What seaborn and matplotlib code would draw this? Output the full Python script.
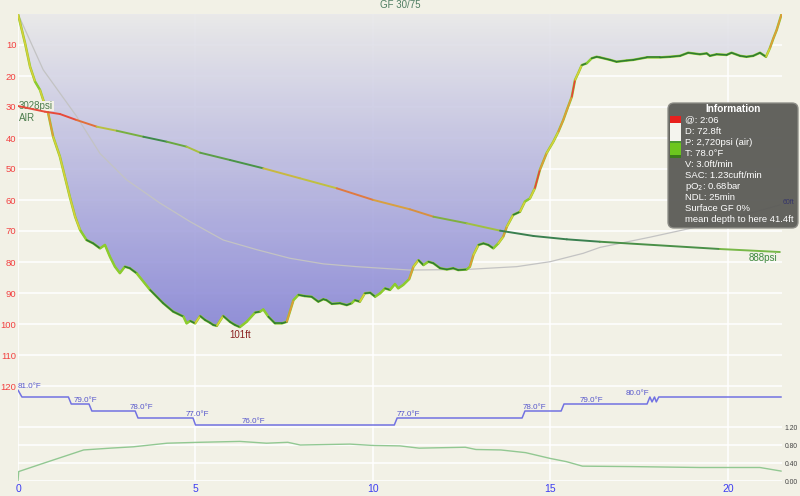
"""Dive profile chart (depth, tank pressure, temperature, pO2)."""

import numpy as np
import matplotlib
matplotlib.use("Agg")
import matplotlib.pyplot as plt
import seaborn as sns
from matplotlib.collections import LineCollection
from matplotlib.colors import LinearSegmentedColormap
from matplotlib.patches import Polygon, FancyBboxPatch, Rectangle
from matplotlib.transforms import IdentityTransform

# ---- data ------------------------------------------------------------------
profile_time = [
    0, 0.2, 0.34, 0.48, 0.62, 0.71, 0.85, 0.99, 1.18, 1.32, 1.46, 1.61, 1.75,
    1.93, 2.12, 2.31, 2.45, 2.59, 2.73, 2.87, 3.01, 3.15, 3.34, 3.72, 4.09,
    4.37, 4.66, 4.75, 4.85, 4.99, 5.13, 5.27, 5.41, 5.5, 5.6, 5.78, 5.97, 6.11,
    6.25, 6.44, 6.68, 6.82, 6.91, 7.05, 7.24, 7.43, 7.57, 7.66, 7.76, 7.9,
    8.08, 8.27, 8.46, 8.6, 8.69, 8.84, 9.07, 9.26, 9.4, 9.49, 9.63, 9.77, 9.92,
    10.06, 10.2, 10.34, 10.48, 10.62, 10.71, 10.85, 11.02, 11.14, 11.28, 11.42,
    11.56, 11.7, 11.89, 12.08, 12.26, 12.4, 12.64, 12.73, 12.83, 12.97, 13.11,
    13.25, 13.39, 13.53, 13.67, 13.77, 13.95, 14.14, 14.28, 14.42, 14.56, 14.7,
    14.89, 15.08, 15.22, 15.36, 15.46, 15.6, 15.69, 15.78, 15.88, 16.02, 16.16,
    16.3, 16.39, 16.68, 16.86, 17.15, 17.33, 17.71, 18.08, 18.37, 18.65, 18.88,
    19.21, 19.4, 19.49, 19.68, 19.96, 20.1, 20.34, 20.52, 20.71, 20.9, 21.07,
    21.18, 21.28, 21.37, 21.51,
]
profile_depth = [
    0, 9.5, 17, 21.8, 24.5, 27.7, 32, 39.6, 46, 52.5, 59, 65.4, 69.7,
    72.9, 74, 75.6, 74.5, 78.3, 81.5, 83.6, 81.5, 82, 83.6, 89, 93.3,
    96, 97.6, 99.8, 99.0, 99.8, 97.4, 98.7, 99.6, 100.3, 100.6, 97.4, 99.3, 100.3,
    101.0, 99.3, 96.3, 96, 95.3, 97.6, 99.8, 99.8, 99.3, 96, 92.3, 90.6,
    91, 91.2, 92.8, 92, 92.3, 93.5, 93.3, 93.9, 93.3, 92.3, 92.8, 90.1, 89.9,
    91.2, 90.1, 88.5, 89, 87.1, 88.5, 87.4, 85.5, 81.5, 79.4, 81,
    79.9, 80.4, 82, 82.4, 82, 82.6, 82.4, 81.5, 77.7, 74.5, 74,
    74.5, 75.6, 74, 71.8, 68.6, 64.8, 63.8, 60.5, 59.5, 56.2, 50.3,
    44.9, 41.2, 38, 34.2, 31, 26.7, 21.3, 19.1, 16.5, 15.9, 14.3,
    13.8, 14, 14.8, 15.4, 15, 14.8, 14, 14, 13.8, 13.5, 12.5,
    13, 12.7, 13.5, 13, 13.2, 12.5, 13.5, 13.8, 13.5, 12.5, 13.8,
    11, 7.8, 5.2, 0,
]

pressure_time = [0, 0.76, 1.18, 1.65, 2.22, 2.78, 3.53, 4.19, 4.75, 5.13, 5.97,
                 6.91, 7.94, 8.98, 10.01, 11.04, 11.7, 12.64, 13.58, 14.52,
                 15.46, 16.39, 19.77, 21.46]
pressure_psi = [3028, 2945, 2911, 2823, 2725, 2666, 2578, 2505, 2432, 2344, 2237,
                2115, 1969, 1822, 1651, 1514, 1406, 1309, 1201, 1123,
                1074, 1039, 932, 888]

mean_time = [0, 0.71, 1.65, 2.31, 3.06, 4.0, 4.85, 5.78, 6.72, 7.66, 8.6, 9.54,
             11.04, 12.64, 14.05, 14.99, 15.92, 16.39, 17.8, 19.2, 20.4, 21.46]
mean_depth = [0, 18, 33, 45, 53.5, 61, 67, 72.9, 76, 78.8, 80.6, 81.5,
              82.6, 82.4, 81.5, 79.9, 77.2, 75.3, 72, 68.5, 65, 61.6]

temp_time = [0, 0.11, 1.42, 1.5, 2.0, 2.08, 3.3, 3.38, 4.93, 5.0, 10.6, 10.68,
             14.2, 14.28, 15.3, 15.38, 17.72, 17.8, 17.86, 17.93, 17.98, 18.05,
             21.5]
temp_f = [81, 80, 80, 79, 79, 78, 78, 77, 77, 76, 76, 77,
          77, 78, 78, 79, 79, 80, 79.3, 80, 79.3, 80,
          80]
temp_label_time = [0, 1.58, 3.15, 4.73, 6.31, 10.67, 14.22, 15.81, 17.12]
temp_label_f = [81, 79, 78, 77, 76, 77, 78, 79, 80]

ppo2_time = [0, 0.02, 0.7, 1.85, 2.6, 3.25, 4.2, 5.1, 6.25, 7.0, 7.6, 7.95, 9.35,
             10.0, 10.76, 11.3, 12.6, 12.9, 13.6, 14.3, 15.0, 15.45, 15.9, 17.3,
             19.2, 20.9, 21.5]
ppo2_bar = [0.0, 0.21, 0.39, 0.69, 0.73, 0.76, 0.84, 0.86, 0.88, 0.84, 0.86, 0.80,
            0.82, 0.79, 0.78, 0.73, 0.75, 0.70, 0.69, 0.63, 0.50, 0.43, 0.33,
            0.32, 0.30, 0.30, 0.22]

depth_ticks = list(range(0, 130, 10))
time_ticks = [0, 5, 10, 15, 20]
ppo2_ticks = [0.0, 0.4, 0.8, 1.2]

info_title = "Information"
info_lines = [
    "@: 2:06",
    "D: 72.8ft",
    "P: 2,720psi (air)",
    "T: 78.0°F",
    "V: 3.0ft/min",
    "SAC: 1.23cuft/min",
    "pO$_2$: 0.68bar",
    "NDL: 25min",
    "Surface GF 0%",
    "mean depth to here 41.4ft",
]

# ---- styling ------------------------------------------------------------------
BG = "#f2f1e6"
RED = "#f24040"
BLUE = "#3c3cf2"
PRESSURE_COLORS = [
    "#e84a3a", "#e84a3a", "#e84a3a", "#e2703a", "#b8c040", "#78b040",
    "#3f8a4a", "#6aa840", "#a8c040", "#5c9e48", "#4a9448", "#c8b840",
    "#c0c040", "#e07a40", "#d8a040", "#d89040", "#80b040", "#a0c040",
    "#3a8050", "#3a8050", "#3a8050", "#4a9048", "#78b848",
]

sns.set_style("white", rc={"axes.facecolor": BG, "figure.facecolor": BG})
plt.rcParams["font.family"] = ["Liberation Sans", "DejaVu Sans"]

W, H = 800, 496
fig = plt.figure(figsize=(W / 100, H / 100), dpi=100)
ax = fig.add_axes([18 / W, (H - 481) / H, 764 / W, 467 / H])
ax_p = ax.twinx()
ax_t = ax.twinx()
ax_o = ax.twinx()

t_max = 764 / 35.5

# depth gradient fill, clipped to the profile
t = np.array(profile_time)
d = np.array(profile_depth)
grad = np.linspace(0, 1, 256).reshape(-1, 1)
cmap = LinearSegmentedColormap.from_list("depth", ["#e9e9ea", "#8684d6"])
im = ax.imshow(grad, extent=[0, t_max, d.max(), 0], aspect="auto", cmap=cmap,
               alpha=0.9, zorder=1, interpolation="bilinear")
poly = Polygon(np.column_stack([t, d]), closed=True, facecolor="none",
               edgecolor="none", transform=ax.transData)
ax.add_patch(poly)
im.set_clip_path(poly)

# mean depth
sns.lineplot(x=mean_time, y=mean_depth, ax=ax, color="#c3c3c3", lw=0.9,
             estimator=None, zorder=3)

# profile coloured by vertical speed
speed = np.diff(d) / np.diff(t)
seg_colors = []
for v in speed:
    s = abs(v) / 2.0 if v > 0 else abs(v)
    if s < 6:
        seg_colors.append("#2f7a34")
    elif s < 15:
        seg_colors.append("#8ccc2e")
    elif s < 27:
        seg_colors.append("#d9cf3a")
    elif s < 40:
        seg_colors.append("#e8963a")
    else:
        seg_colors.append("#ee3b3b")
pts = np.column_stack([t, d])
segs = np.stack([pts[:-1], pts[1:]], axis=1)
# light edge under the coloured line
ax.plot(t, d, color="#8ccc2e", lw=1.8, zorder=4, solid_capstyle="round")
ax.add_collection(LineCollection(segs, colors=seg_colors, linewidths=1.1,
                                 capstyle="round", zorder=4.5))
imax = int(np.argmax(d))
ax.annotate(f"{d.max():.0f}ft", (t[imax], d[imax]), xytext=(0, -2),
            textcoords="offset points", ha="center", va="top",
            fontsize=7, color="#8b2020", zorder=6)

ax.set_xlim(0, t_max)
ax.set_ylim(467 / 3.1, 0)
ax.set_xticks(time_ticks)
ax.set_yticks(depth_ticks)
ax.set_yticklabels([""] + [str(v) for v in depth_ticks[1:]])
ax.tick_params(axis="y", length=0, pad=1.2, labelsize=6.8, labelcolor=RED)
ax.tick_params(axis="x", length=0, pad=2.5, labelsize=7.5, labelcolor=BLUE)
ax.grid(True, color="white", lw=1.1)
ax.set_axisbelow(True)
ax.set_xlabel("")
ax.set_ylabel("")

# tank pressure
ppts = np.column_stack([pressure_time, pressure_psi])
psegs = np.stack([ppts[:-1], ppts[1:]], axis=1)
ax_p.add_collection(LineCollection(psegs, colors=PRESSURE_COLORS, linewidths=1.4,
                                   capstyle="round", zorder=5))
ax_p.set_ylim((312.6 - 481) / 0.06822, (312.6 - 14) / 0.06822)
ax_p.set_yticks([])
ax_p.annotate(f"{pressure_psi[0]}psi", (pressure_time[0], pressure_psi[0]),
              xytext=(0.8, 0), textcoords="offset points", ha="left", va="center",
              fontsize=7, color="#4d7d4d",
              bbox=dict(facecolor=BG, edgecolor="none", pad=0.3))
ax_p.annotate("AIR", (pressure_time[0], pressure_psi[0]),
              xytext=(0.8, -8.4), textcoords="offset points", ha="left",
              va="center", fontsize=7, color="#4d7d4d")
ax_p.annotate(f"{pressure_psi[-1]}psi", (pressure_time[-1], pressure_psi[-1]),
              xytext=(-1.5, -1), textcoords="offset points", ha="right", va="top",
              fontsize=7, color="#3f8a3f")

# temperature
sns.lineplot(x=temp_time, y=temp_f, ax=ax_t, color="#7272e2", lw=1.1,
             estimator=None)
for lt, lf in zip(temp_label_time, temp_label_f):
    ax_t.text(lt, lf, f"{lf:.1f}°F", fontsize=5.8, color="#5555cc",
              ha="left", va="bottom")
ax_t.set_ylim(68, 76 + 411 / 7)
ax_t.set_yticks([])

# pO2
sns.lineplot(x=ppo2_time, y=ppo2_bar, ax=ax_o, color="#92c892", lw=1.0,
             estimator=None)
ax_o.set_ylim(0, 467 / 45)
ax_o.set_yticks(ppo2_ticks)
ax_o.set_yticklabels([f"{v:.2f}" for v in ppo2_ticks])
ax_o.tick_params(axis="y", length=0, pad=2, labelsize=4.9, labelcolor="#444444")
ax_o.grid(True, axis="y", color="white", lw=1.1)
ax_o.set_axisbelow(True)

for a in (ax, ax_p, ax_t, ax_o):
    a.set_xlim(0, t_max)
    a.set_xlabel("")
    a.set_ylabel("")
    for sp in a.spines.values():
        sp.set_visible(False)

fig.text(0.5, 1 - 5.5 / H, "GF 30/75", ha="center", va="center", fontsize=7,
         color="#4f7d62")

# info box (pixel coordinates, origin top-left)
def px(x, y):
    return x, H - y


box = FancyBboxPatch(px(668, 228), 130, 125, boxstyle="round,pad=0,rounding_size=6",
                     transform=IdentityTransform(), facecolor="#5b5b57",
                     edgecolor="#8c8c86", lw=1, alpha=0.95, zorder=10)
fig.add_artist(box)
swatches = [(116, 123, "#e8201e"), (123, 138, "#f4f4ee"), (138, 141, "#f4f4ee"),
            (141, 143, "#4a9a30"), (143, 155, "#6cc61e"), (155, 158, "#3a7a1a")]
for y0, y1, c in swatches:
    fig.add_artist(Rectangle(px(670, y1), 11, y1 - y0, transform=IdentityTransform(),
                             facecolor=c, edgecolor="none", zorder=11))
fig.text(733 / W, 1 - 109 / H, info_title, ha="center", va="center", fontsize=7.3,
         fontweight="bold", color="white", zorder=12)
for i, line in enumerate(info_lines):
    fig.text(685 / W, 1 - (120 + i * 11.05) / H, line, ha="left", va="center",
             fontsize=6.8, color="white", zorder=12)

# mean depth end label drawn above the box
fig.text(783 / W, 1 - 203 / H, f"{60}ft", ha="left", va="center", fontsize=5,
         color="#35356a", zorder=13)

fig.savefig("out.png", dpi=100, facecolor=BG)
